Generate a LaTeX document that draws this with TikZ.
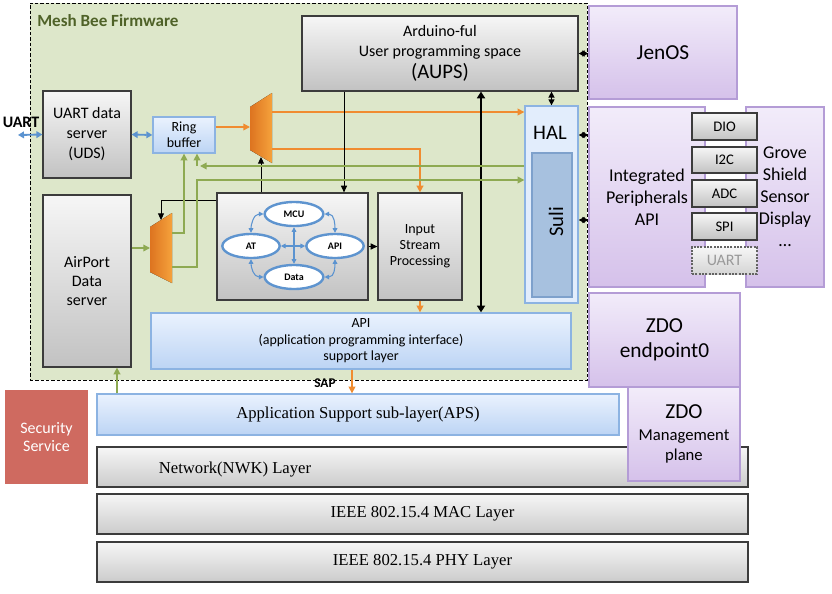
\documentclass[tikz,border=0pt]{standalone}
\usepackage{fontspec}
\setmainfont{Carlito}
\newfontfamily\tnr{Liberation Serif}
\usetikzlibrary{arrows.meta,shapes.geometric,shadows,calc}
\definecolor{fwbg}{HTML}{DDE7CA}
\definecolor{fwtitle}{HTML}{4F6228}
\definecolor{grnline}{HTML}{8EAA52}
\definecolor{orgline}{HTML}{F08C30}
\definecolor{bluln}{HTML}{5B93D0}
\definecolor{purbd}{HTML}{B49CD6}
\definecolor{purtop}{HTML}{F2ECFA}
\definecolor{purbot}{HTML}{D5C1EA}
\definecolor{bltop}{HTML}{EAF2FE}
\definecolor{blbot}{HTML}{BCD4F4}
\definecolor{blbd}{HTML}{8CB3E2}
\definecolor{grtop}{HTML}{F6F6F6}
\definecolor{grbot}{HTML}{C2C2C2}
\definecolor{grbd}{HTML}{3C3C3C}
\definecolor{sulif}{HTML}{A7C1DF}
\definecolor{sulibd}{HTML}{7EA1CC}
\definecolor{half}{HTML}{E2EDFC}
\definecolor{secf}{HTML}{CF6A60}
\definecolor{muxl}{HTML}{DD7420}
\definecolor{muxr}{HTML}{F5A23C}
\definecolor{ellbd}{HTML}{5E94CF}
\newcommand\fs[2]{\fontsize{#1}{#2}\selectfont}
\newcommand\placebox[7]{\node[#6, minimum width={(#4-#2)*0.75pt}, minimum height={(#5-#3)*0.75pt}] (#1) at ({(#2+#4)/2},{(#3+#5)/2}) {#7};}
\begin{document}
\begin{tikzpicture}[x=0.75pt,y=-0.75pt,
  every node/.style={inner sep=0pt, align=center},
  graybox/.style={draw=grbd, line width=0.9pt, top color=grtop, bottom color=grbot, drop shadow={opacity=0.25, shadow xshift=1pt, shadow yshift=-1pt}},
  layerbox/.style={draw=grbd, line width=0.9pt, top color=grtop, bottom color=grbot!85!white, drop shadow={opacity=0.25, shadow xshift=1pt, shadow yshift=-1pt}},
  bluebox/.style={draw=blbd, line width=1pt, top color=bltop, bottom color=blbot},
  halbox/.style={draw=blbd, line width=1pt, fill=half},
  sulibox/.style={draw=sulibd, line width=1pt, fill=sulif},
  purbox/.style={draw=purbd, line width=1pt, top color=purtop, bottom color=purbot, drop shadow={opacity=0.2, shadow xshift=1pt, shadow yshift=-1pt}},
  smallbox/.style={draw=grbd, line width=0.9pt, top color=grtop, bottom color=grbot, font=\fs{11}{13}},
  secbox/.style={draw=white, line width=2.5pt, fill=secf, text=white, drop shadow={opacity=0.25, shadow xshift=1pt, shadow yshift=-1pt}},
  fwst/.style={draw=black, fill=fwbg, line width=0.6pt, dash pattern=on 2.5pt off 1.5pt},
  ell/.style={ellipse, draw=ellbd, line width=1.8pt, fill=white, minimum height=18pt, font=\bfseries\fs{7.5}{9}},
  garrow/.style={draw=grnline, line width=1.1pt, -{Triangle[length=5pt,width=5pt]}},
  oarrow/.style={draw=orgline, line width=1.1pt, -{Triangle[length=5pt,width=5pt]}},
  karrow/.style={draw=black, line width=0.75pt, -{Triangle[length=5pt,width=4.5pt]}},
  kdarrow/.style={draw=black, line width=1pt, {Triangle[length=4.5pt,width=4.5pt]}-{Triangle[length=4.5pt,width=4.5pt]}},
  kthick/.style={draw=black, line width=2.2pt, {Triangle[length=5pt,width=6pt]}-{Triangle[length=5pt,width=6pt]}},
  bdarrow/.style={draw=bluln, line width=1.4pt, {Triangle[length=4.5pt,width=5pt]}-{Triangle[length=4.5pt,width=5pt]}},
  earrow/.style={draw=bluln, line width=0.8pt, {Triangle[length=3.5pt,width=3.5pt]}-{Triangle[length=3.5pt,width=3.5pt]}}
]
\useasboundingbox (0,0) rectangle (832,593);
\fill[white] (0,0) rectangle (832,593);

% firmware region
\placebox{fw}{30}{3}{587}{380}{fwst}{}
\node[anchor=west, text=fwtitle, font=\bfseries\fs{12.8}{14}] (fwtitle) at (37,21) {Mesh Bee Firmware};

% helper coordinates
\coordinate (uartL) at (18,135);
\coordinate (y135) at (0,135);
\coordinate (y166) at (0,166);
\coordinate (y180) at (0,180);
\coordinate (y200) at (0,200);
\coordinate (y220) at (0,220);
\coordinate (c117) at (117,0);
\coordinate (c184) at (184,0);
\coordinate (c197) at (197,0);
\coordinate (c200) at (200,0);
\coordinate (c344) at (344,0);
\coordinate (c352) at (352,0);
\coordinate (c481) at (481,0);

% boxes inside firmware
\placebox{uds}{43}{91}{131}{178}{graybox, font=\fs{12}{15}}{UART data\\server\\(UDS)}
\placebox{ring}{153}{117}{215}{153}{bluebox, font=\fs{10.5}{12}}{Ring\\buffer}
\placebox{airport}{43}{195}{131}{367}{graybox, font=\fs{12}{14.5}}{AirPort\\Data\\server}
\placebox{core}{217}{193}{368}{300}{graybox}{}
\placebox{isp}{378}{193}{462}{300}{graybox, font=\fs{10.5}{12}}{Input\\Stream\\Processing}
\placebox{aups}{302}{16}{578}{91}{graybox, font=\fs{12}{15}}{Arduino-ful\\User programming space\\[2pt]{\fs{15.5}{17}(AUPS)}}
\placebox{hal}{525}{106}{578}{303}{halbox}{}
\placebox{suli}{532}{153}{572}{297}{sulibox}{}
\node[font=\fs{15.5}{17}] (haltxt) at (550,133) {HAL};
\node[font=\fs{15.5}{17}, rotate=90] (sulitxt) at (556,222) {Suli};
\placebox{apil}{151}{313}{571}{369}{bluebox, font=\fs{10.5}{12.4}}{API\\(application programming interface)\\support layer}

% muxes
\fill[left color=muxl, right color=muxr] (250,107) -- (272,93) -- (272,163) -- (250,150) -- cycle;
\fill[left color=muxl, right color=muxr] (150,227) -- (172,213) -- (172,283) -- (150,272) -- cycle;
\coordinate (m1in) at (250,127);
\coordinate (m1o1) at (272,112);
\coordinate (m1o2) at (272,149);
\coordinate (m1bot) at (261,157);
\coordinate (m2in) at (150,248);
\coordinate (m2o1) at (172,233);
\coordinate (m2o2) at (172,267);
\coordinate (m2top) at (161,220);

% core internals
\node[ell, minimum width=44pt] (mcu) at (294,214) {MCU};
\node[ell, minimum width=43pt] (at) at (251,246) {AT};
\node[ell, minimum width=43pt] (api) at (335,246) {API};
\node[ell, minimum width=44pt] (data) at (294,277) {Data};
\draw[earrow] (mcu.west) .. controls +(-10,0) and +(0,-8) .. (at.north);
\draw[earrow] (mcu.east) .. controls +(10,0) and +(0,-8) .. (api.north);
\draw[earrow] (at.south) .. controls +(0,8) and +(-10,0) .. (data.west);
\draw[earrow] (api.south) .. controls +(0,8) and +(10,0) .. (data.east);
\draw[earrow] (mcu.south) -- (data.north);
\draw[earrow] (at.east) -- (api.west);

% lower stack
\placebox{aps}{97}{394}{619}{435}{bluebox, font=\tnr\fs{12.5}{15}}{Application Support sub-layer(APS)}
\placebox{nwk}{97}{447}{748}{487}{layerbox}{}
\node[font=\tnr\fs{12.5}{15}] (nwktxt) at (235,470) {Network(NWK) Layer};
\placebox{mac}{97}{494}{748}{534}{layerbox, font=\tnr\fs{12.5}{15}}{IEEE 802.15.4 MAC Layer}
\placebox{phy}{97}{542}{748}{582}{layerbox, font=\tnr\fs{12.5}{15}}{IEEE 802.15.4 PHY Layer}
\placebox{sec}{3}{388}{90}{486}{secbox, font=\fs{12}{13.5}}{Security\\Service}

% right side
\placebox{jenos}{589}{6}{737}{99}{purbox, font=\fs{16}{19}}{JenOS}
\placebox{integ}{589}{107}{705}{287}{purbox, font=\fs{13.5}{16.5}}{Integrated\\Peripherals\\API}
\placebox{grove}{746}{107}{824}{287}{purbox, font=\fs{13.5}{16.5}}{Grove\\Shield\\Sensor\\Display\\…}
\placebox{dio}{692}{113}{757}{140}{smallbox}{DIO}
\placebox{iic}{692}{147}{757}{173}{smallbox}{I2C}
\placebox{adc}{692}{180}{757}{207}{smallbox}{ADC}
\placebox{spi}{692}{213}{757}{240}{smallbox}{SPI}
\placebox{uartp}{692}{247}{757}{274}{smallbox, draw=grbd!80, dash pattern=on 1.5pt off 1pt, top color=grtop, bottom color=grbot!70!white, text=black!40, font=\fs{12}{14}}{UART}
\placebox{zdoe}{589}{293}{740}{387}{purbox, font=\fs{16}{19}}{ZDO\\endpoint0}
\placebox{zdom}{628}{387}{740}{481}{purbox, font=\fs{12.5}{15.5}}{{\fs{16}{18}ZDO}\\[1pt]Management\\plane}

% connectors
\draw[bdarrow] (uartL) -- (uds.west);
\node[font=\bfseries\fs{12}{14}] (uartlbl) at (21,122) {UART};
\draw[bdarrow] (uds.east) -- (ring.west);
\draw[oarrow] (ring.east |- m1in) -- (m1in);
\draw[oarrow] (m1o1) -- (hal.west |- m1o1);
\draw[oarrow] (m1o2) -| (isp.north);
\draw[karrow] (core.north -| m1bot) -- (m1bot);
\draw[karrow] (aups.south -| c344) -- (core.north -| c344);
\draw[kdarrow] (aups.east) -- (jenos.west |- aups.east);
\draw[kdarrow] (aups.south -| hal.north) -- (hal.north);
\draw[kthick] (aups.south -| c481) -- (apil.north -| c481);
\draw[kdarrow] (hal.east |- y135) -- (integ.west |- y135);
\draw[kdarrow] (hal.east |- y220) -- (integ.west |- y220);
\draw[karrow] (core.east) -- (isp.west);
\draw[oarrow] (isp.south) -- (apil.north -| isp.south);
\draw[karrow] (core.west |- y200) -| (m2top);
\draw[garrow] (airport.east |- m2in) -- (m2in);
\draw[garrow] (m2o1) -| (ring.south -| c184);
\draw[garrow] (m2o2) -| (c197 |- y180) -- (hal.west |- y180);
\draw[garrow] (hal.west |- y166) -- (c200 |- y166);
\draw[garrow] (c197 |- y166) -- (ring.south -| c197);
\draw[garrow] (aps.north -| c117) -- (airport.south -| c117);
\draw[oarrow] (apil.south -| c352) -- (aps.north -| c352);
\node[font=\bfseries\fs{10}{12}] (sap) at (325,383) {SAP};
\end{tikzpicture}
\end{document}
